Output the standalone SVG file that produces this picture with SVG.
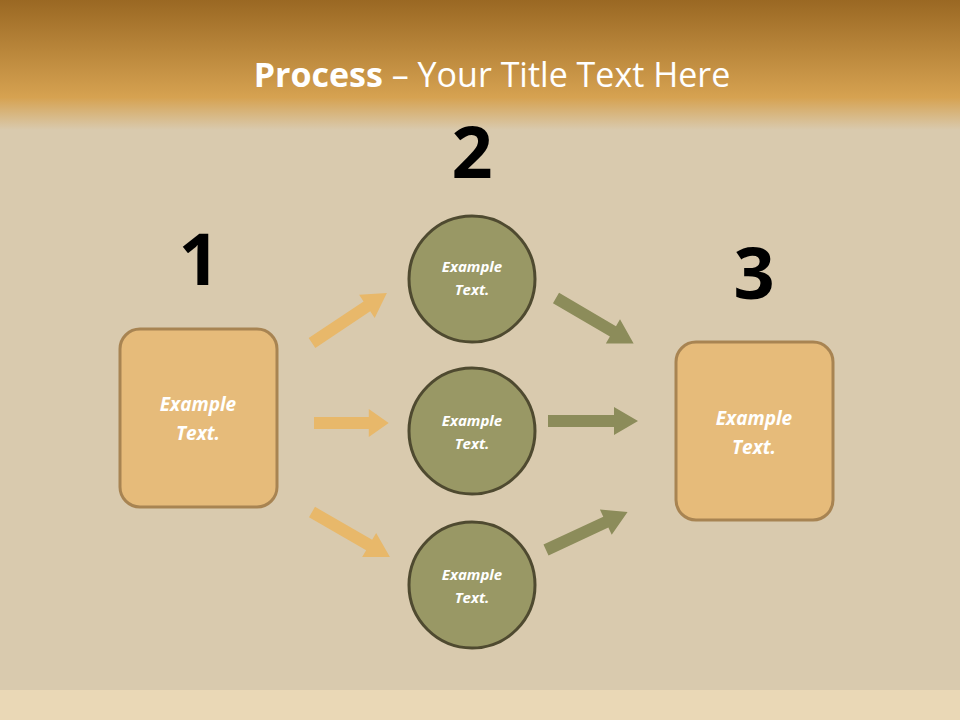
<svg xmlns="http://www.w3.org/2000/svg" xmlns:xlink="http://www.w3.org/1999/xlink" width="960" height="720" viewBox="0 0 960 720">
<defs>
<linearGradient id="top" x1="0" y1="0" x2="0" y2="1">
<stop offset="0" stop-color="#9a6823"/><stop offset="0.75" stop-color="#d6a251"/><stop offset="1" stop-color="#d6a251" stop-opacity="0"/>
</linearGradient>
<polygon id="arr" points="0,-6 66,-6 66,-14 90,0 66,14 66,6 0,6"/>
<style>
.box{fill:#e6bb7a;stroke:#a88452;stroke-width:3}
.circ{fill:#999865;stroke:#4f4a30;stroke-width:3}
.lbl{font-family:"Open Sans","Liberation Sans",sans-serif;font-weight:bold;font-style:italic;fill:#fff;text-anchor:middle}
.num{font-family:"Open Sans","Liberation Sans",sans-serif;font-weight:bold;font-size:72px;fill:#000;text-anchor:middle}
.oa{fill:#e8b86a}.ga{fill:#8c8c5a}
</style>
</defs>
<rect width="960" height="720" fill="#d9caae"/>
<rect width="960" height="130" fill="url(#top)"/>
<rect y="690" width="960" height="30" fill="#ead8b6"/>
<text x="492" y="87" font-family="'Open Sans','Liberation Sans',sans-serif" font-size="34" fill="#fff" text-anchor="middle"><tspan font-weight="bold">Process</tspan> – Your Title Text Here</text>
<g id="connectors">
<use xlink:href="#arr" class="oa" transform="translate(312,343) rotate(-33.7)"/>
<use xlink:href="#arr" class="oa" transform="translate(314,423) scale(0.83,1)"/>
<use xlink:href="#arr" class="oa" transform="translate(312,512) rotate(30)"/>
<use xlink:href="#arr" class="ga" transform="translate(556,298) rotate(30.4)"/>
<use xlink:href="#arr" class="ga" transform="translate(548,421)"/>
<use xlink:href="#arr" class="ga" transform="translate(546,550) rotate(-25)"/>
</g>
<g id="n1"><rect class="box" x="120" y="329" width="157" height="178" rx="20"/>
<text class="lbl" x="198" y="411" font-size="19">Example</text><text class="lbl" x="198" y="440" font-size="19">Text.</text>
<text class="num" x="199" y="285">1</text></g>
<g id="n2a"><circle class="circ" cx="472" cy="279" r="63"/>
<text class="lbl" x="472" y="272" font-size="15">Example</text><text class="lbl" x="472" y="295" font-size="15">Text.</text></g>
<g id="n2b"><circle class="circ" cx="472" cy="431" r="63"/>
<text class="lbl" x="472" y="426" font-size="15">Example</text><text class="lbl" x="472" y="449" font-size="15">Text.</text></g>
<g id="n2c"><circle class="circ" cx="472" cy="585" r="63"/>
<text class="lbl" x="472" y="580" font-size="15">Example</text><text class="lbl" x="472" y="603" font-size="15">Text.</text></g>
<text class="num" x="472" y="178">2</text>
<g id="n3"><rect class="box" x="676" y="342" width="157" height="178" rx="20"/>
<text class="lbl" x="754" y="425" font-size="19">Example</text><text class="lbl" x="754" y="454" font-size="19">Text.</text>
<text class="num" x="754" y="299">3</text></g>
</svg>
